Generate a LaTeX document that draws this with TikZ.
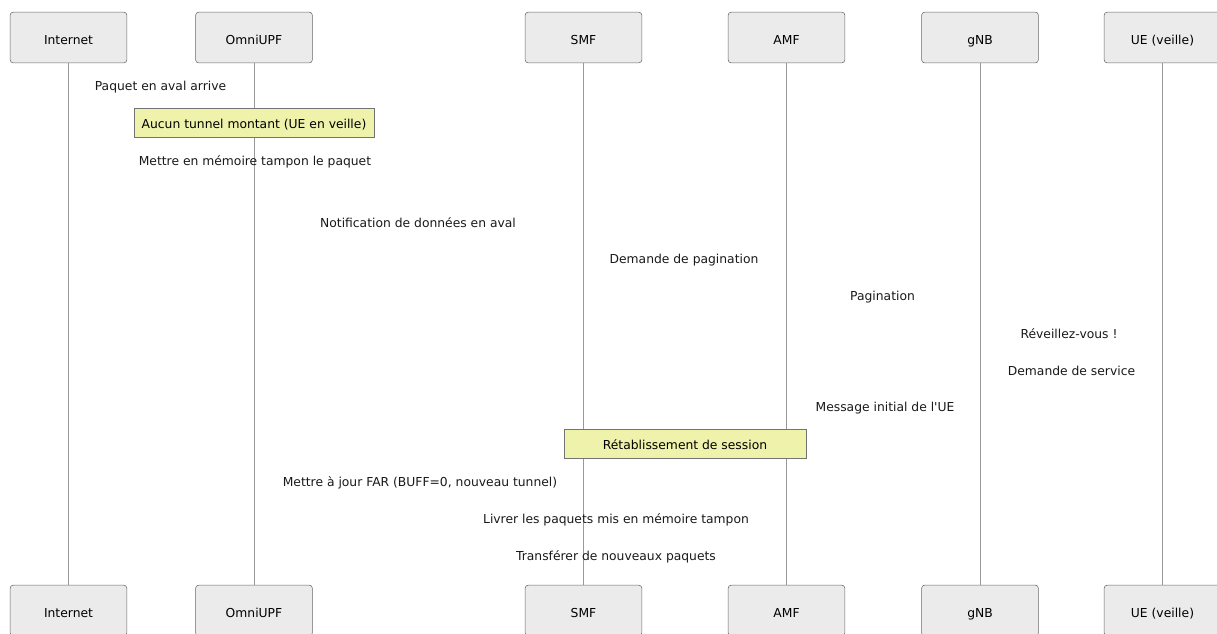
\documentclass[tikz,border=0pt]{standalone}
\usepackage{fontspec}
\setmainfont{DejaVu Sans}
\begin{document}
\begin{tikzpicture}[x=0.75pt,y=-0.75pt,
  actor/.style={draw=black!60,fill=black!8,rounded corners=2.2pt,minimum width=87.5pt,minimum height=38pt,inner sep=0pt,text height=10.4pt,text depth=0pt,font=\fontsize{9.25}{11}\selectfont},
  lifeline/.style={draw=black!40,line width=0.7pt},
  msg/.style={font=\fontsize{9.25}{11}\selectfont,inner sep=0pt,text=black!90},
  note/.style={draw=black!55,fill={rgb,255:red,238;green,242;blue,170},inner sep=0pt,minimum height=22pt,text height=9.2pt,text depth=0pt,font=\fontsize{9.25}{11}\selectfont}]
\useasboundingbox (0,0) rectangle (1217,633);
% actors top
\node[actor] (t1) at (68.5,37.5) {Internet};
\node[actor] (t2) at (254,37.5) {OmniUPF};
\node[actor] (t3) at (583.5,37.5) {SMF};
\node[actor] (t4) at (786.5,37.5) {AMF};
\node[actor] (t5) at (980,37.5) {gNB};
\node[actor] (t6) at (1162.5,37.5) {UE (veille)};
% actors bottom
\node[actor] (b1) at (68.5,610.5) {Internet};
\node[actor] (b2) at (254,610.5) {OmniUPF};
\node[actor] (b3) at (583.5,610.5) {SMF};
\node[actor] (b4) at (786.5,610.5) {AMF};
\node[actor] (b5) at (980,610.5) {gNB};
\node[actor] (b6) at (1162.5,610.5) {UE (veille)};
% lifelines
\foreach \i in {1,...,6} \draw[lifeline] (t\i.south) -- (b\i.north);
% messages
\node[msg] (m1) at (160.5,87.5) {Paquet en aval arrive};
\node[note,minimum width=180pt] (n1) at (254,122.5) {Aucun tunnel montant (UE en veille)};
\node[msg] (m2) at (255,162) {Mettre en mémoire tampon le paquet};
\node[msg] (m3) at (418,223) {Notification de données en aval};
\node[msg] (m4) at (684,260) {Demande de pagination};
\node[msg] (m5) at (882.5,297) {Pagination};
\node[msg] (m6) at (1069,333.5) {Réveillez-vous !};
\node[msg] (m7) at (1071.5,371) {Demande de service};
\node[msg] (m8) at (885,408) {Message initial de l\textquotesingle UE};
\node[note,minimum width=181.5pt] (n2) at (685,443.5) {Rétablissement de session};
\node[msg] (m9) at (420,483) {Mettre à jour FAR (BUFF=0, nouveau tunnel)};
\node[msg] (m10) at (616,520) {Livrer les paquets mis en mémoire tampon};
\node[msg] (m11) at (616,557) {Transférer de nouveaux paquets};
\end{tikzpicture}
\end{document}
